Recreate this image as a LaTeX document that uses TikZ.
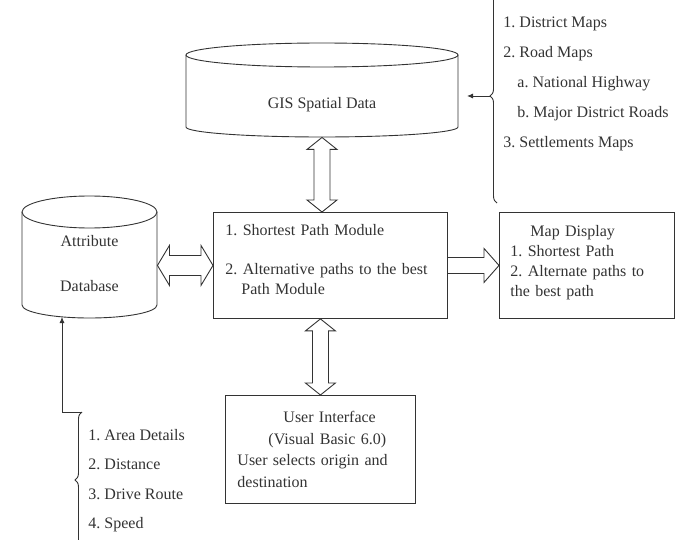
\documentclass[tikz,border=0pt]{standalone}
\usepackage{fontspec}
\setmainfont{Liberation Serif}
\usetikzlibrary{calc,positioning,arrows.meta,decorations.pathreplacing}

\begin{document}
\begin{tikzpicture}[x=1pt, y=-1pt, line width=0.9pt, color=black!80,
txt/.style={font=\fontsize{16}{20}\selectfont},
modbox/.style={txt, draw, align=left, inner xsep=12pt, inner ysep=6pt},
listtxt/.style={align=left, inner sep=0pt, anchor=west},
smallarr/.style={-{Latex[length=6pt,width=5pt]}},
curly/.style={decorate, decoration={brace, amplitude=7pt}},
vboth/.style={to path={(\tikztostart) -- ($(\tikztostart)+(15,12)$) -- ($(\tikztostart)+(8,12)$)
    -- ($(\tikztotarget)+(8,-12)$) -- ($(\tikztotarget)+(15,-12)$) -- (\tikztotarget)
    -- ($(\tikztotarget)+(-15,-12)$) -- ($(\tikztotarget)+(-8,-12)$)
    -- ($(\tikztostart)+(-8,12)$) -- ($(\tikztostart)+(-15,12)$) -- cycle}},
hboth/.style={to path={(\tikztostart) -- ($(\tikztostart)+(12,-20)$) -- ($(\tikztostart)+(12,-10)$)
    -- ($(\tikztotarget)+(-12,-10)$) -- ($(\tikztotarget)+(-12,-20)$) -- (\tikztotarget)
    -- ($(\tikztotarget)+(-12,20)$) -- ($(\tikztotarget)+(-12,10)$)
    -- ($(\tikztostart)+(12,10)$) -- ($(\tikztostart)+(12,20)$) -- cycle}},
hone/.style={to path={($(\tikztostart)+(0,-8)$) -- ($(\tikztotarget)+(-15,-8)$) -- ($(\tikztotarget)+(-15,-17)$)
    -- (\tikztotarget) -- ($(\tikztotarget)+(-15,17)$) -- ($(\tikztotarget)+(-15,8)$)
    -- ($(\tikztostart)+(0,8)$)}}]
\useasboundingbox (0,0) rectangle (685,540);

% GIS cylinder
\node[txt, minimum width=272, minimum height=64] (gis) at (322,105) {GIS Spatial Data};
\draw (322,55) ellipse [x radius=136, y radius=12];
\draw (186,55) -- (186,127) arc [start angle=180, end angle=0, x radius=136, y radius=10] -- (458,55);

% attribute database cylinder
\node[txt, align=center, minimum width=135, minimum height=82] (attr) at (89.5,264) {Attribute\\[25pt]Database};
\draw (89.5,212) ellipse [x radius=67.5, y radius=16];
\draw (22,212) -- (22,305) arc [start angle=180, end angle=0, x radius=67.5, y radius=13] -- (157,212);

\node[modbox, text width=210, minimum height=106, anchor=north west] (spm) at (213,212)
  {1.~Shortest Path Module\\[19pt]2.~Alternative paths to the best\\\hspace*{16pt}Path Module\\[-8pt]\mbox{}};
\node[modbox, text width=153, inner xsep=11pt, minimum height=106, anchor=north west] (disp) at (499,212)
  {\hspace*{20pt}Map Display\\1.~Shortest Path\\2.~Alternate paths to\\the best path\\[-10pt]\mbox{}};
\node[modbox, text width=166, minimum height=108, anchor=north west] (ui) at (225,395)
  {\hspace*{46pt}User Interface\\[1.5pt]\hspace*{31pt}(Visual Basic 6.0)\\[1.5pt]User selects origin and\\[1.5pt]destination};

\draw[vboth] (gis.south) to (gis.south |- spm.north);
\draw[hboth] (attr.east |- spm.west) to (spm.west);
\draw[hone] (spm.east) to (disp.west);
\draw[vboth] (ui.north |- spm.south) to (ui.north);

% map layers
\node[listtxt, font=\fontsize{16}{30}\selectfont] (maps) at (503,83.5)
  {1.~District Maps\\2.~Road Maps\\\hspace*{14pt}a.~National Highway\\\hspace*{14pt}b.~Major District Roads\\3.~Settlements Maps};
\draw[curly] (497,203) -- (497,-11);
\coordinate (mapstip) at (490,96);
\coordinate (gisside) at (467,96);
\draw[smallarr] (mapstip) -- (gisside);

% attribute fields
\node[listtxt, font=\fontsize{16}{29.3}\selectfont] (fields) at (88,480.5)
  {1.~Area Details\\2.~Distance\\3.~Drive Route\\4.~Speed};
\draw[curly] (82,548) -- (82,412);
\coordinate (fieldstop) at (82,412);
\coordinate (attrbase) at (62,317);
\draw[smallarr] (fieldstop) -| (attrbase);
\end{tikzpicture}
\end{document}
